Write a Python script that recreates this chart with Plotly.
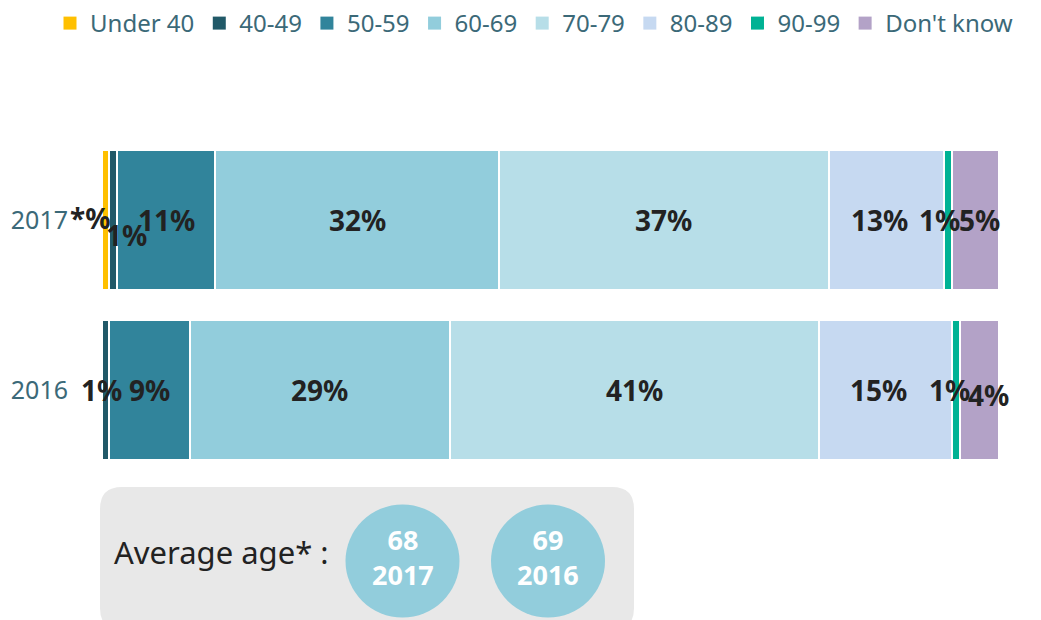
import plotly.graph_objects as go
import numpy as np

# ---------------- data ----------------
years = ["2017", "2016"]
age_groups = ["Under 40", "40-49", "50-59", "60-69", "70-79", "80-89", "90-99", "Don't know"]
values_2017 = [0.8, 0.9, 10.9, 31.7, 36.7, 12.9, 0.9, 5.2]
values_2016 = [0.0, 0.8, 9.0, 29.0, 41.1, 14.9, 0.9, 4.3]
labels_2017 = ["*%", "1%", "11%", "32%", "37%", "13%", "1%", "5%"]
labels_2016 = ["", "1%", "9%", "29%", "41%", "15%", "1%", "4%"]
avg_ages = [68, 69]
avg_years = ["2017", "2016"]

# ---------------- styles ----------------
colors = ["#FFC000", "#215968", "#31849B", "#92CDDC", "#B7DEE8", "#C6D9F1", "#00B294", "#B3A2C7"]
FONT = "Noto Sans"
TEXT_DARK = "#222222"
AXIS_COLOR = "#3b6978"
nudges = {
    ("2017", 0): (-16, 2), ("2017", 1): (13, -15), ("2017", 5): (-7, 0),
    ("2017", 6): (-9, 0), ("2017", 7): (4, 0),
    ("2016", 1): (-4, 0), ("2016", 5): (-7, 0), ("2016", 6): (-7, 0), ("2016", 7): (9, -5),
}

OFF = 8                      # page body margin
W, H = 1041 - OFF, 620 - OFF
L, T = 102 - OFF, 135 - OFF
R, B = W - (999 - OFF), H - (475 - OFF)
PW, PH = W - L - R, H - T - B

def px(x):  # screen px -> paper x
    return (x - OFF - L) / PW

def py(y):  # screen px -> paper y
    return (H - B - (y - OFF)) / PH

ypos = list(range(len(years)))
series = {"2017": values_2017, "2016": values_2016}

fig = go.Figure()
for i, g in enumerate(age_groups):
    fig.add_trace(go.Bar(
        y=ypos, x=[series[yr][i] for yr in years], name=g, orientation="h",
        marker=dict(color=colors[i], line=dict(color="white", width=2)),
        showlegend=False,
    ))
# legend entries with larger square swatches
for i, g in enumerate(age_groups):
    fig.add_trace(go.Scatter(
        x=[None], y=[None], mode="markers", name=g,
        marker=dict(symbol="square", size=13, color=colors[i]),
        showlegend=True,
    ))

annotations = []
for yr, vals, labs in [("2017", values_2017, labels_2017), ("2016", values_2016, labels_2016)]:
    cum = np.concatenate([[0], np.cumsum(vals)])
    for i, lab in enumerate(labs):
        if not lab:
            continue
        cx = float((cum[i] + cum[i + 1]) / 2)
        dx, dy = nudges.get((yr, i), (0, 0))
        annotations.append(dict(
            x=cx, y=years.index(yr), xref="x", yref="y", text=f"<b>{lab}</b>", showarrow=False,
            xshift=dx, yshift=dy,
            font=dict(family=FONT, size=28, color=TEXT_DARK),
        ))

bx0, bx1, by0, by1, r = 100, 634, 487, 630, 22
path = (f"M {px(bx0 + r)},{py(by0)} L {px(bx1 - r)},{py(by0)} "
        f"Q {px(bx1)},{py(by0)} {px(bx1)},{py(by0 + r)} "
        f"L {px(bx1)},{py(by1 - r)} Q {px(bx1)},{py(by1)} {px(bx1 - r)},{py(by1)} "
        f"L {px(bx0 + r)},{py(by1)} Q {px(bx0)},{py(by1)} {px(bx0)},{py(by1 - r)} "
        f"L {px(bx0)},{py(by0 + r)} Q {px(bx0)},{py(by0)} {px(bx0 + r)},{py(by0)} Z")
shapes = [dict(type="path", path=path, xref="paper", yref="paper",
               fillcolor="#E8E8E8", line=dict(width=0), layer="below")]

annotations.append(dict(x=px(112), y=py(552), xref="paper", yref="paper",
                        xanchor="left", yanchor="middle", showarrow=False,
                        text="Average age* :",
                        font=dict(family=FONT, size=31, color=TEXT_DARK)))

circle_cx = [402.5, 548]
ccy, crx, cry = 561, 57, 56.5
for cx, age, yr in zip(circle_cx, avg_ages, avg_years):
    shapes.append(dict(type="circle", xref="paper", yref="paper",
                       x0=px(cx - crx), x1=px(cx + crx), y0=py(ccy + cry), y1=py(ccy - cry),
                       fillcolor="#92CDDC", line=dict(width=0), layer="above"))
    annotations.append(dict(x=px(cx), y=py(557), xref="paper", yref="paper",
                            xanchor="center", yanchor="middle", showarrow=False,
                            text=f"<b>{age}<br>{yr}</b>",
                            font=dict(family=FONT, size=27, color="white")))

fig.update_layout(
    width=W, height=H,
    margin=dict(l=L, r=R, t=T, b=B, autoexpand=False),
    barmode="stack", bargap=0.1765,
    plot_bgcolor="white", paper_bgcolor="white",
    font=dict(family=FONT),
    xaxis=dict(range=[0, 100], visible=False),
    yaxis=dict(range=[len(years) - 0.5, -0.5], tickmode="array", tickvals=ypos, ticktext=years,
               showgrid=False, zeroline=False, showline=False,
               ticks="outside", ticklen=28, tickcolor="rgba(0,0,0,0)",
               tickfont=dict(family=FONT, size=25, color=AXIS_COLOR)),
    legend=dict(orientation="h", x=px(50), y=py(1), xanchor="left", yanchor="top",
                font=dict(family=FONT, size=24, color=AXIS_COLOR),
                traceorder="normal", bgcolor="rgba(0,0,0,0)"),
    annotations=annotations,
    shapes=shapes,
    showlegend=True,
    hovermode=False,
)

fig.write_html("out.html")
